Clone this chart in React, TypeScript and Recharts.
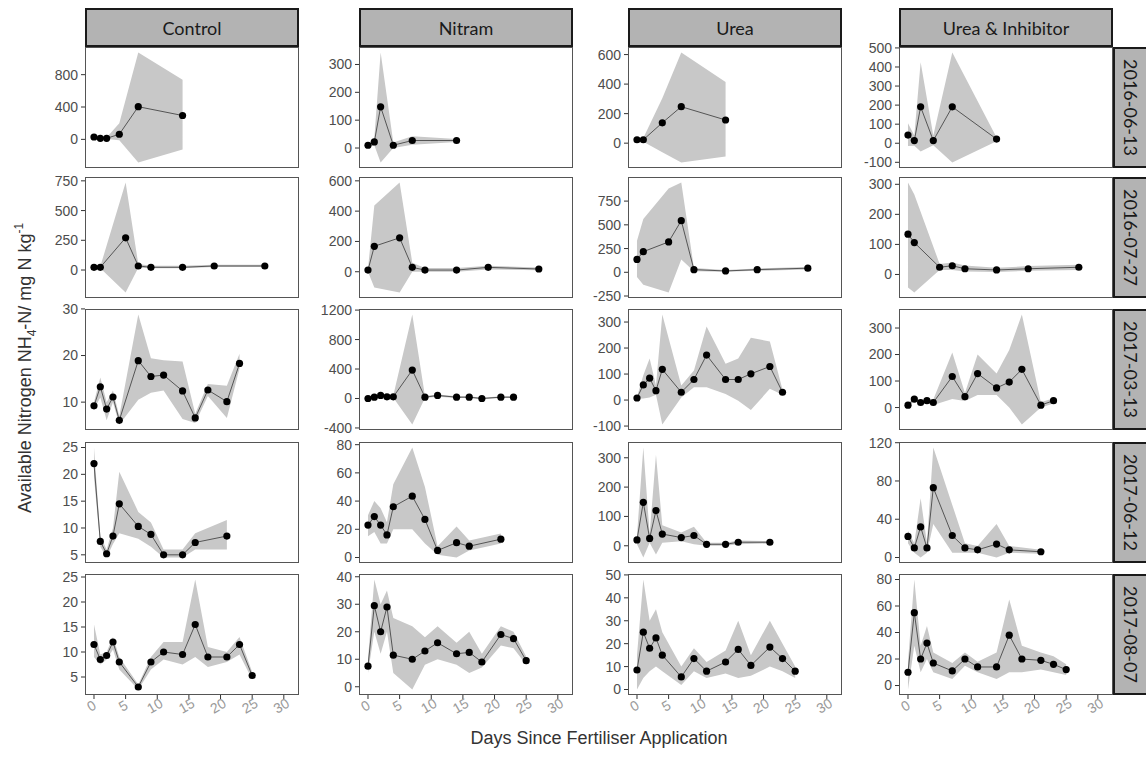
import React from 'react'
import { ComposedChart, Area, Line, XAxis, YAxis } from 'recharts'

const TREATMENTS = ['Control', 'Nitram', 'Urea', 'Urea & Inhibitor']
const DATES = ['2016-06-13', '2016-07-27', '2017-03-13', '2017-06-12', '2017-08-07']
const X_TICKS = [0, 5, 10, 15, 20, 25, 30]

// each row: [day, mean, low, high]
// 2016-06-13
const CTL_A = [[0, 29, 15, 45], [1, 13, 5, 22], [2, 13, 5, 22], [4, 63, -10, 200], [7, 404, -286, 1074], [14, 295, -126, 737]]
const NIT_A = [[0, 10, 5, 15], [1, 22, 10, 35], [2, 148, -52, 343], [4, 10, 0, 20], [7, 27, 12, 42], [14, 27, 22, 32]]
const URE_A = [[0, 23, 15, 30], [1, 23, 10, 35], [4, 138, -62, 304], [7, 247, -131, 614], [14, 157, -90, 415]]
const UI_A = [[0, 43, -15, 105], [1, 14, -13, 40], [2, 191, -43, 425], [4, 14, -10, 40], [7, 191, -101, 476], [14, 22, 10, 30]]
// 2016-07-27
const CTL_B = [[0, 23, 15, 30], [1, 23, 15, 30], [5, 271, -189, 736], [7, 34, 20, 50], [9, 23, 15, 35], [14, 23, 15, 35], [19, 34, 25, 45], [27, 34, 25, 45]]
const NIT_B = [[0, 11, 0, 20], [1, 168, -104, 438], [5, 224, -137, 589], [7, 29, 0, 60], [9, 11, 0, 25], [14, 11, 0, 25], [19, 29, 15, 40], [27, 18, 10, 28]]
const URE_B = [[0, 135, -50, 331], [1, 217, -132, 562], [5, 320, -213, 882], [7, 544, 135, 946], [9, 28, 10, 45], [14, 14, 5, 25], [19, 28, 15, 40], [27, 43, 30, 55]]
const UI_B = [[0, 134, -43, 306], [1, 106, -60, 266], [5, 24, 15, 35], [7, 29, 15, 40], [9, 19, 10, 30], [14, 15, 8, 22], [19, 19, 12, 28], [27, 24, 15, 32]]
// 2017-03-13
const CTL_C = [[0, 9.2, 8.5, 10], [1, 13.3, 11, 15.3], [2, 8.5, 6.1, 10], [3, 11.1, 10, 12.5], [4, 6.1, 5.2, 7], [7, 18.9, 10.5, 28.8], [9, 15.5, 12, 19.4], [11, 15.8, 12.5, 19], [14, 12.4, 6.4, 18.7], [16, 6.6, 5.5, 7.5], [18, 12.6, 11.3, 13.9], [21, 10.1, 6.6, 13.5], [23, 18.3, 17.2, 20.4]]
const NIT_C = [[0, 0, -10, 10], [1, 18, 5, 30], [2, 41, 25, 55], [3, 23, 10, 35], [4, 23, 10, 40], [7, 386, -353, 1140], [9, 18, 5, 35], [11, 41, 25, 55], [14, 18, 5, 30], [16, 18, 5, 30], [18, 0, -10, 10], [21, 18, 5, 30], [23, 18, 5, 30]]
const URE_C = [[0, 8, 5, 12], [1, 58, 6, 95], [2, 84, 10, 160], [3, 36, 20, 56], [4, 118, -94, 329], [7, 30, 10, 56], [9, 79, 49, 114], [11, 173, 49, 283], [14, 79, 23, 140], [16, 79, -3, 160], [18, 101, -38, 240], [21, 129, 43, 225], [23, 30, 20, 40]]
const UI_C = [[0, 9, 5, 15], [1, 32, 25, 40], [2, 19, 12, 26], [3, 26, 18, 33], [4, 19, 10, 30], [7, 117, 32, 208], [9, 41, 25, 55], [11, 128, 47, 200], [14, 74, 47, 128], [16, 96, 0, 217], [18, 144, -64, 351], [21, 9, 0, 20], [23, 26, 15, 35]]
// 2017-06-12
const CTL_D = [[0, 22, 19.5, 25], [1, 7.5, 6.5, 8.5], [2, 5.2, 4.5, 6], [3, 8.5, 7, 10], [4, 14.5, 9, 20.5], [7, 10.3, 8, 13], [9, 8.8, 6.5, 11], [11, 5, 4.5, 6], [14, 5, 4.5, 6], [16, 7.3, 6, 9], [21, 8.5, 6, 11.5]]
const NIT_D = [[0, 23, 15, 30], [1, 29, 18, 40], [2, 23, 10, 35], [3, 16, 10, 25], [4, 36, 20, 52], [7, 43.5, 20, 78], [9, 27, 10, 50], [11, 5, 2, 8], [14, 10.5, 0, 22], [16, 8, 5, 12], [21, 13, 10, 17]]
const URE_D = [[0, 20, 5, 35], [1, 148, -40, 335], [2, 25, 10, 40], [3, 120, -30, 310], [4, 40, 10, 70], [7, 28, 15, 45], [9, 35, 5, 65], [11, 5, 0, 10], [14, 5, 0, 10], [16, 12, 5, 18], [21, 12, 8, 16]]
const UI_D = [[0, 22, 15, 28], [1, 10, 5, 15], [2, 32, 0, 62], [3, 10, 5, 15], [4, 73, 35, 115], [7, 23, 5, 55], [9, 10, 5, 15], [11, 8, 5, 12], [14, 14, 0, 35], [16, 8, 5, 12], [21, 6, 4, 8]]
// 2017-08-07
const CTL_E = [[0, 11.5, 9, 15.5], [1, 8.5, 7.5, 9.5], [2, 9.3, 8.5, 10], [3, 12, 10.5, 13], [4, 8, 6.5, 9], [7, 3, 2.5, 3.5], [9, 8, 6.5, 9], [11, 10, 8.5, 12], [14, 9.5, 7.5, 12], [16, 15.5, 9, 24.5], [18, 9, 7, 11], [21, 9, 8, 10], [23, 11.5, 9.5, 13], [25, 5.3, 4.5, 6]]
const NIT_E = [[0, 7.5, 5, 10], [1, 29.5, 20, 39], [2, 20, 12, 30], [3, 29, 20, 35], [4, 11.5, 5, 25], [7, 10, -1, 22], [9, 13, 8, 18], [11, 16, 10, 22], [14, 12, 8, 16], [16, 12.5, 5, 20], [18, 9, 7, 12], [21, 19, 15, 22], [23, 17.5, 14, 20], [25, 9.5, 8, 11]]
const URE_E = [[0, 8.5, 0, 15], [1, 25, 5, 48], [2, 18, 8, 30], [3, 22.5, 10, 35], [4, 15, 8, 25], [7, 5.5, 2, 10], [9, 13.5, 8, 18], [11, 8, 5, 12], [14, 12, 7, 17], [16, 17.5, 5, 30], [18, 10.5, 6, 15], [21, 18.5, 10, 30], [23, 13.5, 8, 20], [25, 8, 5, 10]]
const UI_E = [[0, 10, -3, 18], [1, 55, 30, 80], [2, 20, 10, 30], [3, 32, 20, 45], [4, 17, 10, 25], [7, 11, 5, 17], [9, 20, 15, 25], [11, 14, 10, 18], [14, 14, 5, 25], [16, 38, 10, 65], [18, 20, 10, 30], [21, 19, 12, 25], [23, 16, 10, 22], [25, 12, 8, 16]]

// y tick labels per row, one list per treatment
const TICKS_A = [[0, 400, 800], [0, 100, 200, 300], [0, 200, 400, 600], [-100, 0, 100, 200, 300, 400, 500]]
const TICKS_B = [[0, 250, 500, 750], [0, 200, 400, 600], [-250, 0, 250, 500, 750], [0, 100, 200, 300]]
const TICKS_C = [[10, 20, 30], [-400, 0, 400, 800, 1200], [-100, 0, 100, 200, 300], [0, 100, 200, 300]]
const TICKS_D = [[5, 10, 15, 20, 25], [0, 20, 40, 60, 80], [0, 100, 200, 300], [0, 40, 80, 120]]
const TICKS_E = [[5, 10, 15, 20, 25], [0, 10, 20, 30, 40], [0, 10, 20, 30, 40, 50], [0, 20, 40, 60, 80]]

const PANELS = [
  [CTL_A, NIT_A, URE_A, UI_A],
  [CTL_B, NIT_B, URE_B, UI_B],
  [CTL_C, NIT_C, URE_C, UI_C],
  [CTL_D, NIT_D, URE_D, UI_D],
  [CTL_E, NIT_E, URE_E, UI_E],
]
const TICKS = [TICKS_A, TICKS_B, TICKS_C, TICKS_D, TICKS_E]

const COL_LEFT = [85, 359, 628, 899]
const ROW_TOP = [47, 177, 309, 442, 574]
const PANEL_W = 214
const PANEL_H = 121
const Y_W = 60
const X_H = 34
const PAD = 10
const X_DOMAIN = [-1.42, 32.4]
const FONT = '"Liberation Sans", Arial, sans-serif'

function XTick({ x, y, payload }: any) {
  return (
    <text
      x={x}
      y={y + 9}
      transform={`rotate(-30 ${x} ${y + 9})`}
      textAnchor="middle"
      fontSize={14}
      fontFamily={FONT}
      fill="#9a9a9a"
    >
      {payload.value}
    </text>
  )
}

function Panel({ rows, ticks, showX }: { rows: number[][]; ticks: number[]; showX: boolean }) {
  const data = rows.map(([day, mean, low, high]) => ({ day, mean, band: [low, high] }))
  const vals = rows.flatMap((r) => [r[1], r[2], r[3]])
  const lo = Math.min(...vals)
  const hi = Math.max(...vals)
  const pad = (hi - lo) * 0.05
  return (
    <ComposedChart
      width={Y_W + PANEL_W}
      height={PANEL_H + PAD + (showX ? X_H : PAD)}
      data={data}
      margin={{ top: PAD, right: 0, bottom: showX ? 0 : PAD, left: 0 }}
    >
      <XAxis
        type="number"
        dataKey="day"
        domain={X_DOMAIN}
        ticks={X_TICKS}
        allowDataOverflow
        hide={!showX}
        height={X_H}
        interval={0}
        axisLine={false}
        tickLine={{ stroke: '#333' }}
        tickSize={4}
        tick={<XTick />}
      />
      <YAxis
        type="number"
        domain={[lo - pad, hi + pad]}
        ticks={ticks}
        allowDataOverflow
        width={Y_W}
        interval={0}
        axisLine={false}
        tickLine={{ stroke: '#333' }}
        tickSize={4}
        tickMargin={3}
        tick={{ fill: '#4d4d4d', fontSize: 14, fontFamily: FONT }}
      />
      <Area
        dataKey="band"
        type="linear"
        stroke="none"
        fill="#c8c8c8"
        fillOpacity={1}
        activeDot={false}
        isAnimationActive={false}
      />
      <Line
        dataKey="mean"
        type="linear"
        stroke="#555"
        strokeWidth={1}
        dot={{ r: 3.6, fill: '#000', stroke: '#000', strokeWidth: 0 }}
        activeDot={false}
        isAnimationActive={false}
      />
    </ComposedChart>
  )
}

const stripStyle: React.CSSProperties = {
  position: 'absolute',
  boxSizing: 'border-box',
  background: '#b3b3b3',
  border: '2px solid #1a1a1a',
  display: 'flex',
  alignItems: 'center',
  justifyContent: 'center',
  fontFamily: 'Lato, "Open Sans", sans-serif',
  fontSize: 18,
  color: '#1a1a1a',
}

export default function App() {
  return (
    <div style={{ position: 'absolute', left: 0, top: 0, width: 1146, height: 758, overflow: 'hidden', background: '#fff' }}>
      <svg width={40} height={758} style={{ position: 'absolute', left: 0, top: 0 }}>
        <text
          transform="translate(31 368) rotate(-90)"
          textAnchor="middle"
          fontSize={18}
          fontFamily={FONT}
          fill="#333"
        >
          Available Nitrogen NH
          <tspan fontSize={12} dy={5}>4</tspan>
          <tspan dy={-5}>-N/ mg N kg</tspan>
          <tspan fontSize={12} dy={-8}>-1</tspan>
        </text>
      </svg>

      {TREATMENTS.map((t, c) => (
        <div key={t} style={{ ...stripStyle, left: COL_LEFT[c], top: 8, width: PANEL_W, height: 39 }}>
          {t}
        </div>
      ))}

      {DATES.map((d, r) => (
        <div
          key={d}
          style={{ ...stripStyle, left: 1113, top: ROW_TOP[r], width: 36, height: PANEL_H, writingMode: 'vertical-rl' }}
        >
          {d}
        </div>
      ))}

      {PANELS.map((row, r) =>
        row.map((rows, c) => (
          <React.Fragment key={`${r}-${c}`}>
            <div style={{ position: 'absolute', left: COL_LEFT[c] - Y_W, top: ROW_TOP[r] - PAD }}>
              <Panel rows={rows} ticks={TICKS[r][c]} showX={r === PANELS.length - 1} />
            </div>
            <div
              style={{
                position: 'absolute',
                left: COL_LEFT[c],
                top: ROW_TOP[r],
                width: PANEL_W,
                height: PANEL_H,
                boxSizing: 'border-box',
                border: '1.5px solid #555',
                pointerEvents: 'none',
              }}
            />
          </React.Fragment>
        ))
      )}

      <div
        style={{
          position: 'absolute',
          left: 85,
          width: 1028,
          top: 728,
          textAlign: 'center',
          fontFamily: FONT,
          fontSize: 18,
          color: '#333',
        }}
      >
        Days Since Fertiliser Application
      </div>
    </div>
  )
}
